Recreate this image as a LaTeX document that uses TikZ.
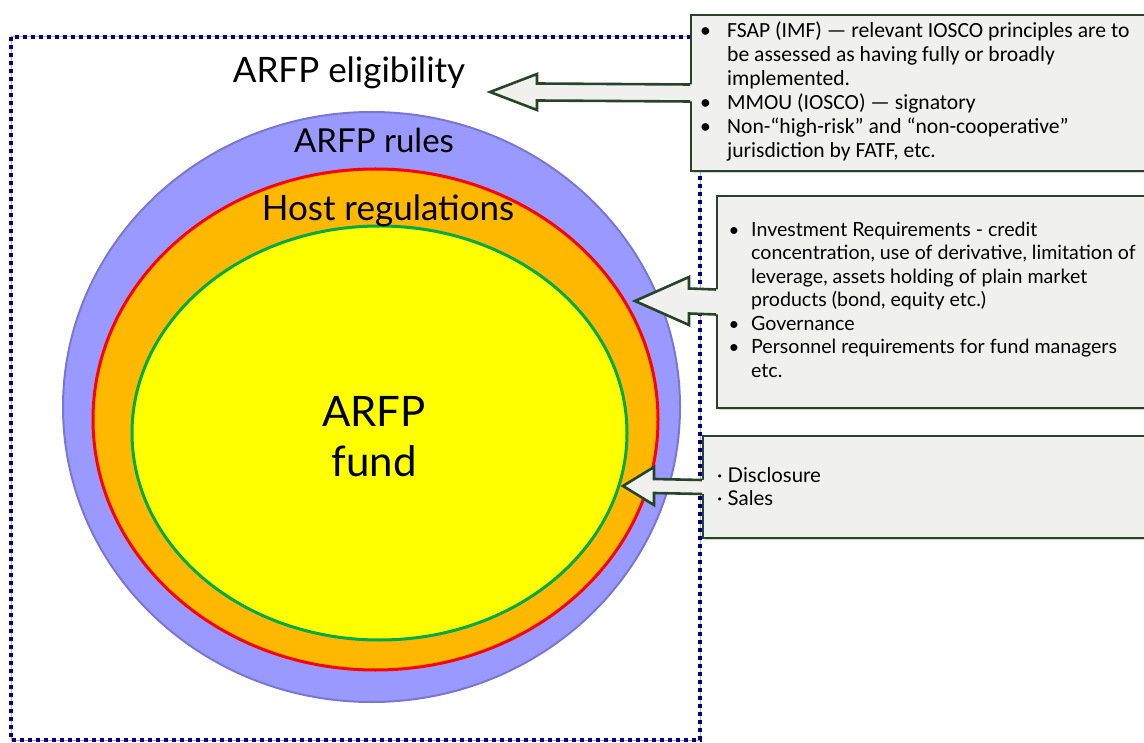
\documentclass[tikz,border=0pt]{standalone}
\usepackage{fontspec}
\setmainfont{Lato}
\newfontfamily\calfont{Carlito}
\usetikzlibrary{positioning,shapes.geometric,calc,shadows}

\definecolor{frameblue}{RGB}{0,0,128}
\definecolor{ringblue}{RGB}{153,153,255}
\definecolor{ringedge}{RGB}{120,120,210}
\definecolor{hostorange}{RGB}{255,184,0}
\definecolor{hostred}{RGB}{255,0,0}
\definecolor{fundyellow}{RGB}{255,255,0}
\definecolor{fundgreen}{RGB}{0,170,70}
\definecolor{boxfill}{RGB}{240,241,239}
\definecolor{boxedge}{RGB}{40,68,40}

% block arrow out of a box: box, tip, head length, head half height, shaft half height
\newcommand{\boxarrow}[5]{%
  \fill[boxfill] ($(#1.west)+(3,-#5)$) -- ($(#2)+(#3,-#5)$) -- ($(#2)+(#3,-#4)$) -- (#2)
    -- ($(#2)+(#3,#4)$) -- ($(#2)+(#3,#5)$) -- ($(#1.west)+(3,#5)$) -- cycle;
  \draw[connect] ($(#1.west)+(0,-#5)$) -- ($(#2)+(#3,-#5)$) -- ($(#2)+(#3,-#4)$) -- (#2)
    -- ($(#2)+(#3,#4)$) -- ($(#2)+(#3,#5)$) -- ($(#1.west)+(0,#5)$);
}
\newcommand{\dotb}{{\calfont •}}

\begin{document}
\begin{tikzpicture}[x=1pt,y=-1pt]
  \tikzstyle{ring}=[ellipse, inner sep=0pt]
  \tikzstyle{ringtext}=[inner sep=0pt, anchor=base]
  \tikzstyle{infobox}=[rectangle, draw=boxedge, fill=boxfill, line width=2pt, inner sep=0pt, anchor=north west,
                       drop shadow={shadow xshift=2pt, shadow yshift=-2pt, opacity=0.35}]
  \tikzstyle{bullets}=[align=left, inner sep=0pt]
  \tikzstyle{connect}=[draw=boxedge, line width=2.6pt, line join=miter]

  \useasboundingbox (0,0) rectangle (1144,743);
  % dotted frame
  \draw[blue!35, line width=1pt] (11,37) rectangle (700,740);
  \draw[frameblue, line width=3.5pt, dash pattern=on 4pt off 4pt] (11,37) rectangle (700,740);

  % rings
  \node[ring, fill=ringblue, draw=ringedge, line width=2pt, minimum width=617pt, minimum height=590pt] (rules) at (371.5,407) {};
  \node[ring, fill=hostorange, draw=hostred, line width=3pt, minimum width=565pt, minimum height=501pt] (host) at (375.5,419.5) {};
  \node[ring, fill=fundyellow, draw=fundgreen, line width=3pt, minimum width=495pt, minimum height=414pt] (fund) at (379.5,433) {};

  \node[ringtext, font=\fontsize{35}{40}\selectfont] (eliglabel) at (349,83) {ARFP eligibility};
  \node[ringtext, font=\fontsize{33}{38}\selectfont] (ruleslabel) at (374,153) {ARFP rules};
  \node[ringtext, font=\fontsize{35}{38}\selectfont] (hostlabel) at (388,221) {Host regulations};
  \node[inner sep=0pt, align=center, font=\fontsize{42}{50}\selectfont] (fundlabel) at (374,436.5) {ARFP\\fund};

  % boxes
  \node[infobox, minimum width=470pt, minimum height=156pt] (eligbox) at (690,14) {};
  \node[infobox, minimum width=444pt, minimum height=212pt] (rulesbox) at (716,195) {};
  \node[infobox, minimum width=458pt, minimum height=102pt] (hostbox) at (702,435) {};

  \node[bullets, font=\calfont\fontsize{21.6}{24}\selectfont, right=10pt of eligbox.west] (eliglist)
    {\begin{tabular}{@{}p{27pt}@{}l@{}}
      •&FSAP (IMF) — relevant IOSCO principles are to\\
       &be assessed as having fully or broadly\\
       &implemented.\\
      •&MMOU (IOSCO) — signatory\\
      •&Non-“high-risk” and “non-cooperative”\\
       &jurisdiction by FATF, etc.
     \end{tabular}};
  \node[bullets, font=\fontsize{19.6}{23.5}\selectfont, right=13pt of rulesbox.west] (ruleslist)
    {\begin{tabular}{@{}p{22pt}@{}l@{}}
      \dotb&Investment Requirements - credit\\
       &concentration, use of derivative, limitation of\\
       &leverage, assets holding of plain market\\
       &products (bond, equity etc.)\\
      \dotb&Governance\\
      \dotb&Personnel requirements for fund managers\\
       &etc.
     \end{tabular}};
  \node[bullets, font=\fontsize{20.4}{23}\selectfont, right=15pt of hostbox.west] (hostlist) {· Disclosure\\· Sales};

  % arrows
  \coordinate (eligtip) at (490,92);
  \coordinate (rulestip) at (635,301);
  \coordinate (hosttip) at (623,486);
  \boxarrow{eligbox}{eligtip}{47}{18}{8.5}
  \boxarrow{rulesbox}{rulestip}{54}{24}{12.5}
  \boxarrow{hostbox}{hosttip}{31}{19}{7}
\end{tikzpicture}
\end{document}
